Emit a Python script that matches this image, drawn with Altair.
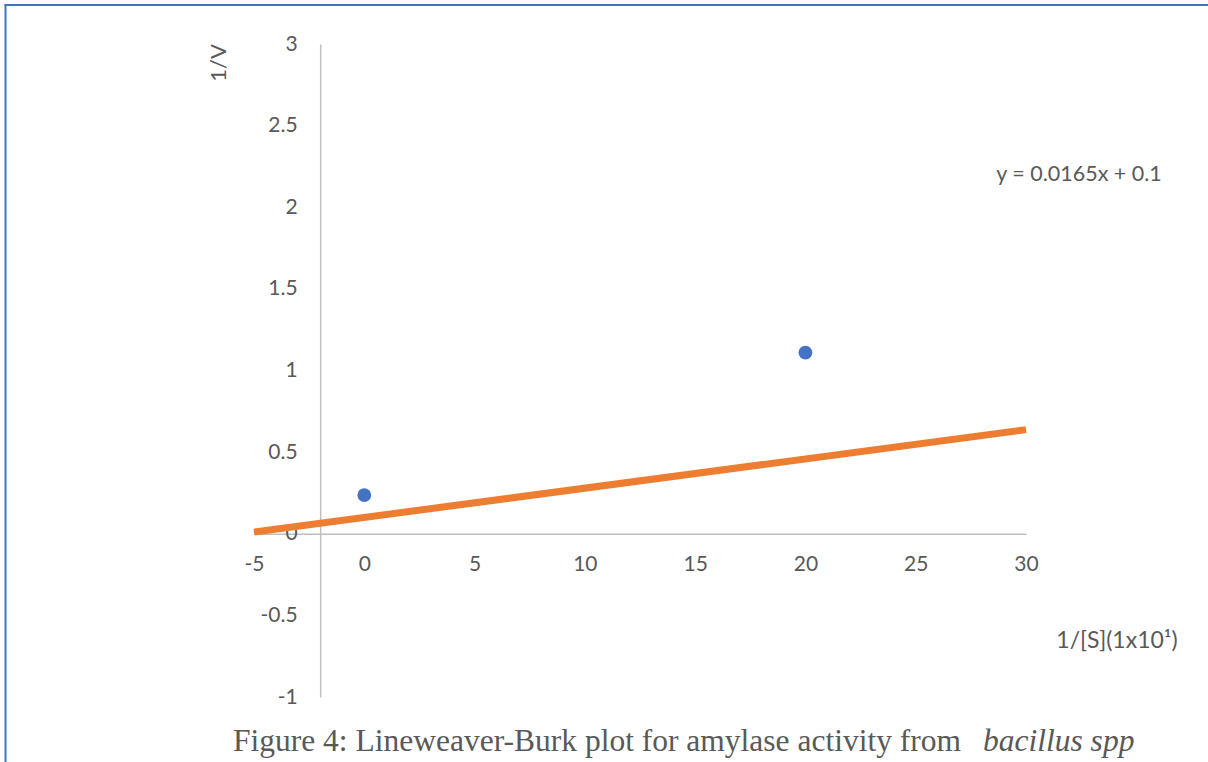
import altair as alt
import pandas as pd

# Data
point_x = [0, 20]
point_y = [0.237, 1.11]

trend_x = [-5, 30]
trend_y = [0.01, 0.638]

x_ticks = [-5, 0, 5, 10, 15, 20, 25, 30]
y_ticks = [-1, -0.5, 0, 0.5, 1, 1.5, 2, 2.5, 3]

x_domain = [-5, 30]
y_domain = [-1, 3]
y_axis_cross_x = -2   # vertical axis crosses at x = -2
x_axis_cross_y = 0    # horizontal axis crosses at y = 0

equation_text = "y = 0.0165x + 0.1"
y_title = "1/V"
x_title = "1/[S](1x10¹)"
caption_regular = "Figure 4: Lineweaver-Burk plot for amylase activity from "
caption_italic = "bacillus spp"

W, H = 772, 653
LEFT, TOP = 254, 44
TOTAL_W, TOTAL_H = 1208, 762

FONT = "Lato"
GREY = "#595959"
AXIS_GREY = "#BFBFBF"

pts = pd.DataFrame({"x": point_x, "y": point_y})
trend = pd.DataFrame({"x": trend_x, "y": trend_y})

x_off = -H * (x_axis_cross_y - y_domain[0]) / (y_domain[1] - y_domain[0])
y_off = -W * (y_axis_cross_x - x_domain[0]) / (x_domain[1] - x_domain[0])

xscale = alt.Scale(domain=x_domain, nice=False, zero=False)
yscale = alt.Scale(domain=y_domain, nice=False, zero=False)

xaxis = alt.Axis(values=x_ticks, grid=False, ticks=False, tickSize=0, offset=x_off,
                 domainColor=AXIS_GREY, domainWidth=1.5, labelColor=GREY,
                 labelFont=FONT, labelFontSize=21, labelPadding=20, title=None,
                 labelFlush=False, labelOverlap=False,
                 labelExpr="'' + datum.value")
yaxis = alt.Axis(values=y_ticks, grid=False, ticks=False, tickSize=0, offset=y_off,
                 domainColor=AXIS_GREY, domainWidth=1.5, labelColor=GREY,
                 labelFont=FONT, labelFontSize=21, labelPadding=23, title=None,
                 labelFlush=False, labelOverlap=False,
                 labelExpr="'' + datum.value")

line = alt.Chart(trend).mark_line(color="#ED7D31", strokeWidth=7, strokeCap="butt").encode(
    x=alt.X("x:Q", scale=xscale, axis=xaxis),
    y=alt.Y("y:Q", scale=yscale, axis=yaxis),
)

points = alt.Chart(pts).mark_circle(color="#4472C4", size=190, opacity=1).encode(
    x=alt.X("x:Q", scale=xscale),
    y=alt.Y("y:Q", scale=yscale),
)

def label(text, x, y, **kw):
    return alt.Chart(pd.DataFrame({"t": [text]})).mark_text(**kw).encode(
        text="t:N", x=alt.value(x), y=alt.value(y))

eq = label(equation_text, 1079 - LEFT, 175 - TOP, font=FONT, fontSize=21.5, color=GREY,
           align="center", baseline="middle")
ytitle = label(y_title, 219 - LEFT, 63 - TOP, font=FONT, fontSize=22, color=GREY,
               align="center", baseline="middle", angle=270)
xtitle = label(x_title, 1117 - LEFT, 641 - TOP, font=FONT, fontSize=23, color=GREY,
               align="center", baseline="middle")

cap1 = label(caption_regular, 233 - LEFT, 751 - TOP, font="Liberation Serif", fontSize=31.5,
             color=GREY, align="left", baseline="alphabetic")
cap2 = label(caption_italic, 983 - LEFT, 751 - TOP, font="Liberation Serif", fontSize=31.5,
             color=GREY, align="left", baseline="alphabetic", fontStyle="italic")

frame_left = alt.Chart(pd.DataFrame({"a": [0]})).mark_rule(color="#4472C4", strokeWidth=2).encode(
    x=alt.value(5.5 - LEFT), y=alt.value(4 - TOP), y2=alt.value(TOTAL_H - TOP))
frame_top = alt.Chart(pd.DataFrame({"a": [0]})).mark_rule(color="#4472C4", strokeWidth=2).encode(
    y=alt.value(5 - TOP), x=alt.value(4.5 - LEFT), x2=alt.value(TOTAL_W - LEFT))

chart = alt.layer(line, points, eq, ytitle, xtitle, cap1, cap2, frame_left, frame_top).properties(
    width=W, height=H,
    autosize=alt.AutoSizeParams(type="none"),
    padding={"left": LEFT, "top": TOP, "right": TOTAL_W - LEFT - W, "bottom": TOTAL_H - TOP - H},
    background="white",
).configure_view(stroke=None)

chart.save("out.html", embed_options={"renderer": "svg", "actions": False})
